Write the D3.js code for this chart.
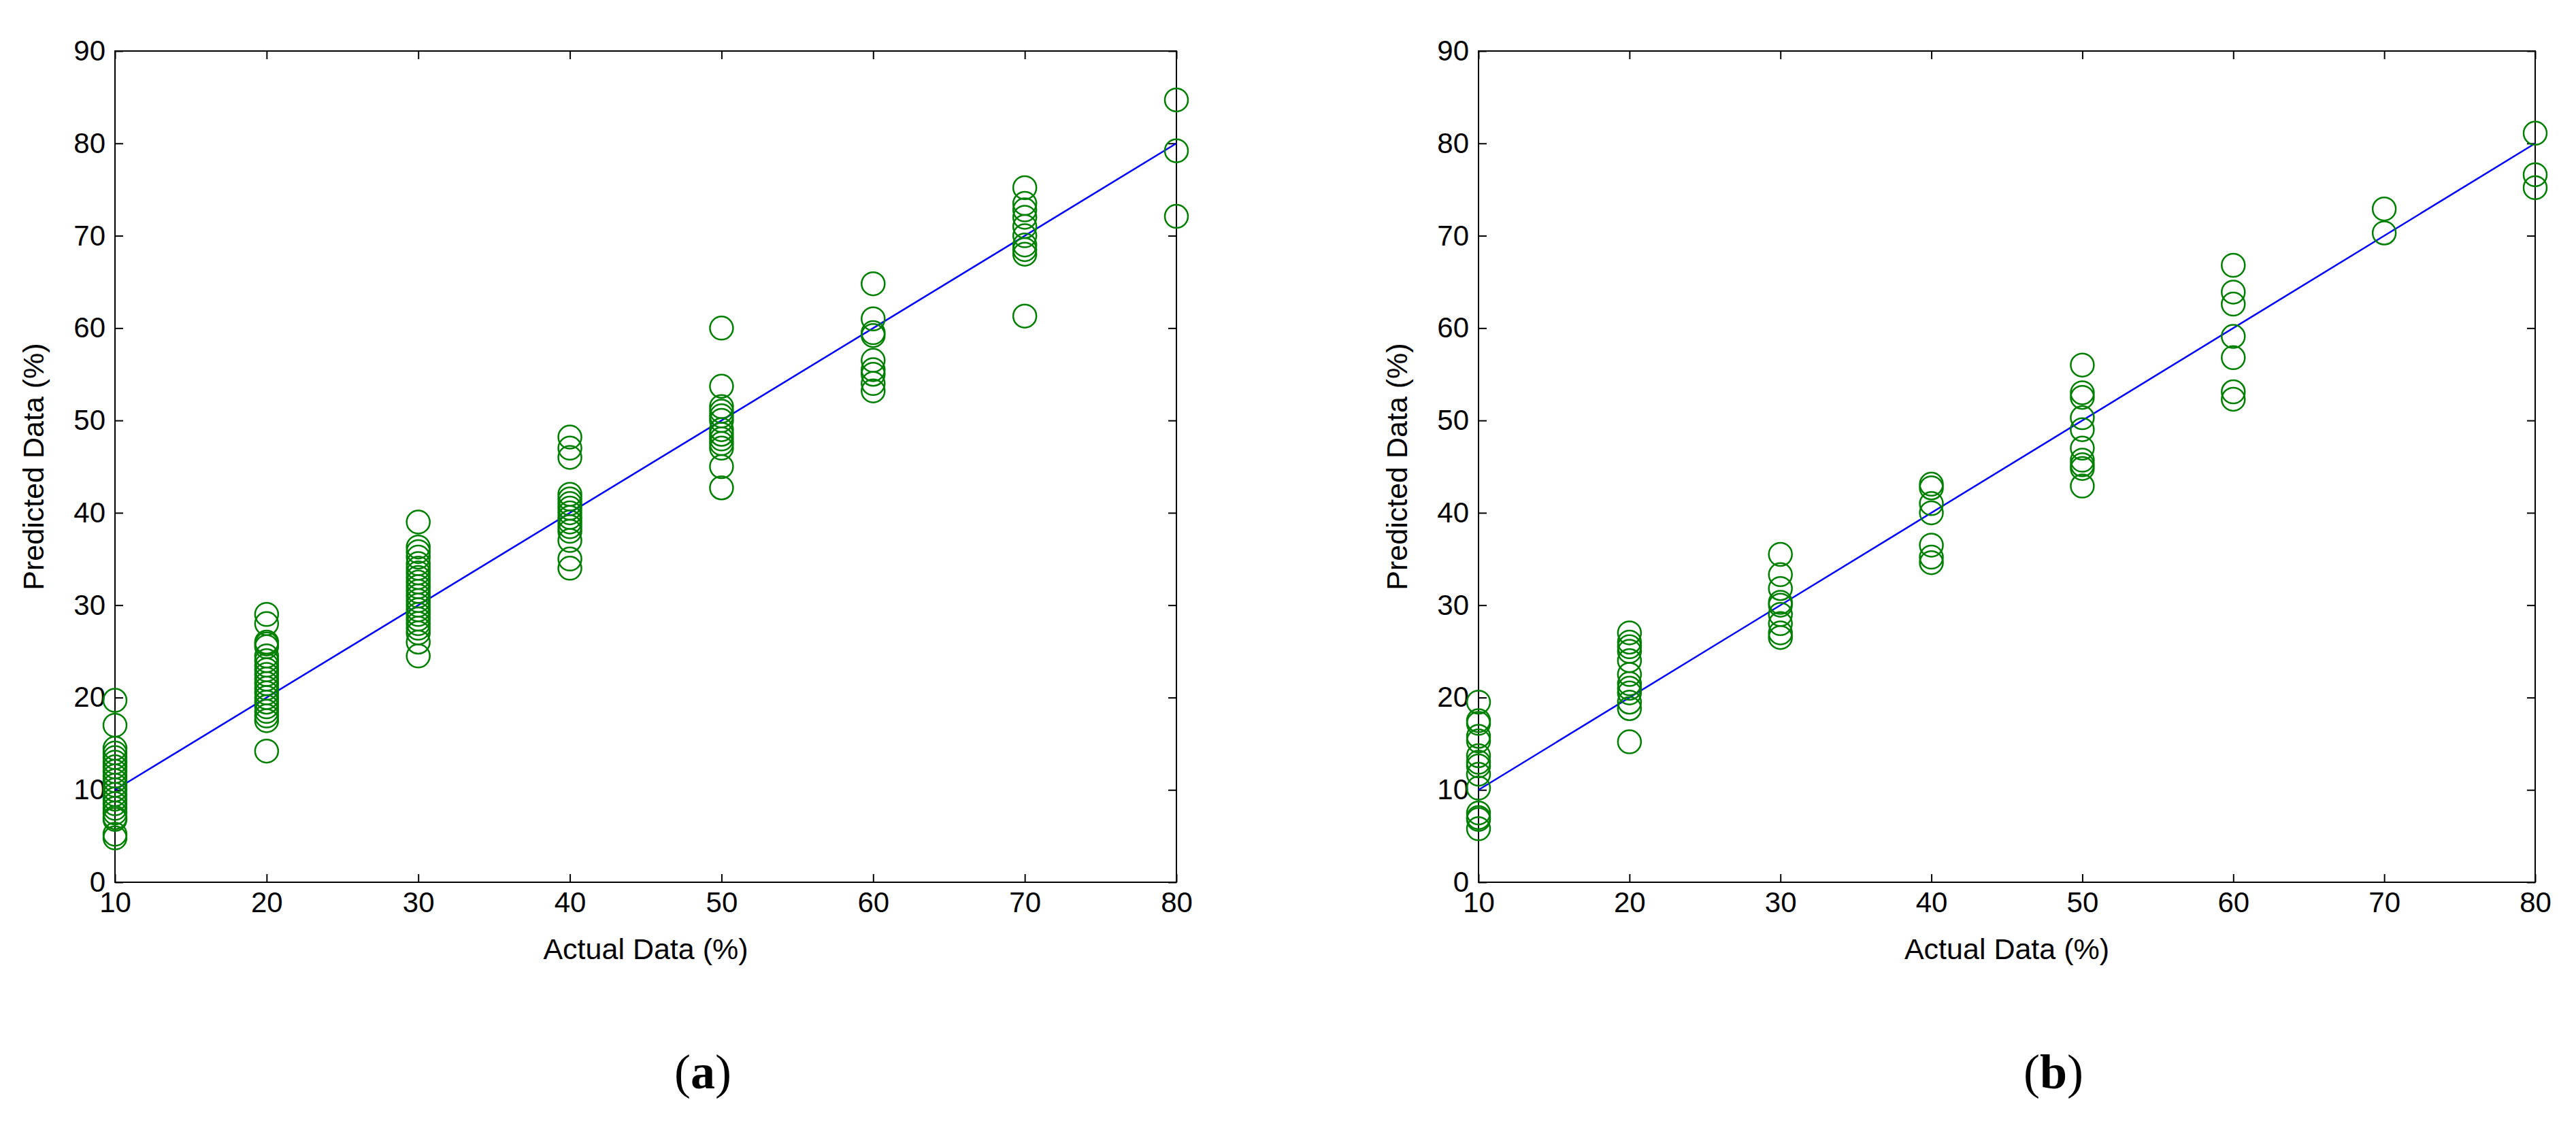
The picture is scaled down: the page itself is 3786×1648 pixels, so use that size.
<!DOCTYPE html>
<html><head><meta charset="utf-8">
<script src="https://cdn.jsdelivr.net/npm/d3@7"></script>
<style>body{margin:0;background:#fff}</style></head>
<body><svg id="c" width="3786" height="1648"></svg>
<script>
const xTicks=[10,20,30,40,50,60,70,80];
const yTicks=[0,10,20,30,40,50,60,70,80,90];
const groupsX=[10,20,30,40,50,60,70,80];
const predA=[
 [19.7,17,14.5,14,13.5,13,12.5,12,11.5,11,10.5,10,9.5,9,8.5,8,7.5,7,6.8,5.2,4.8],
 [29,28,26,25.8,25.5,24.5,24,23.5,23,22.5,22,21.5,21,20.5,20,19.5,19,18.5,18,17.5,14.2],
 [39,36.3,35.8,35.2,34.5,34,33.5,33,32.5,32,31.5,31,30.5,30,29.5,29,28.5,28,27.5,27,26,24.5],
 [48.2,47,46,42,41.5,41,40.5,40,39.5,39,38.5,38,37,35,34],
 [60,53.7,51.5,51,50.5,50,49,48.5,48,47.5,47,45,42.7],
 [64.8,61,59.5,59.2,56.5,55.5,55,54,53.2],
 [75.2,73.5,72.8,72,71,70,69,68.5,68,61.3],
 [84.7,79.2,72.1]];
const predB=[
 [19.5,17.5,17.2,15.8,15.3,13.7,13,12.6,11.7,10.2,7.5,7,6.8,5.8],
 [27,26,25.5,25,24,22.5,21.5,21,20.5,19.5,18.8,15.2],
 [35.5,33.3,31.8,30.3,30,29,28,27,26.5],
 [43.1,42.7,41,40,36.5,35.2,34.6],
 [56,53,52.5,50.3,49,47,45.7,45.2,44.8,42.9],
 [66.8,63.9,62.6,59.1,56.8,53.1,52.3],
 [72.9,70.3],
 [81.1,76.6,75.2]];
const svg=d3.select("#c");
const font="'Liberation Sans',Arial,sans-serif";
function panel(L,R,label,lx,data){
  const T=75,B=1297;
  const x=d3.scaleLinear().domain([10,80]).range([L,R]);
  const y=d3.scaleLinear().domain([0,90]).range([B,T]);
  const g=svg.append("g");
  g.append("rect").attr("x",L).attr("y",T).attr("width",R-L).attr("height",B-T).attr("fill","none").attr("stroke","#000").attr("stroke-width",2);
  const ax=[[d3.axisBottom(x),`translate(0,${B})`,true],[d3.axisTop(x),`translate(0,${T})`,false],
            [d3.axisLeft(y),`translate(${L},0)`,true],[d3.axisRight(y),`translate(${R},0)`,false]];
  ax.forEach(([a,t,lab],i)=>{
    if(i<2)a.tickValues(xTicks);else a.tickValues(yTicks);
    a.tickSizeInner(-12).tickSizeOuter(0).tickPadding(lab?14:0);
    if(!lab)a.tickFormat("");
    const gg=g.append("g").attr("transform",t).call(a);
    gg.select(".domain").remove();
    gg.selectAll("line").attr("stroke","#000").attr("stroke-width",2);
    gg.selectAll("text").attr("font-family",font).attr("font-size",42).attr("fill","#000");
  });
  g.append("line").attr("x1",x(10)).attr("y1",y(10)).attr("x2",x(80)).attr("y2",y(80)).attr("stroke","#0000ff").attr("stroke-width",2.5);
  data.forEach((vals,i)=>vals.forEach(v=>{
    g.append("circle").attr("cx",x(groupsX[i])).attr("cy",y(v)).attr("r",17).attr("fill","none").attr("stroke","#008000").attr("stroke-width",2.5);
  }));
  g.append("text").attr("x",(L+R)/2).attr("y",1410).attr("text-anchor","middle").attr("font-family",font).attr("font-size",43).text("Actual Data (%)");
  g.append("text").attr("transform",`translate(${L-105},${(T+B)/2}) rotate(-90)`).attr("text-anchor","middle").attr("font-family",font).attr("font-size",43).text("Predicted Data (%)");
  const t=g.append("text").attr("x",lx).attr("y",1600).attr("text-anchor","middle").attr("font-family","'Liberation Serif','DejaVu Serif',serif").attr("font-size",72);
  t.append("tspan").text("(");t.append("tspan").attr("font-weight","bold").text(label);t.append("tspan").text(")");
}
panel(169,1729,"a",1033,predA);
panel(2173,3726,"b",3018,predB);
</script></body></html>
